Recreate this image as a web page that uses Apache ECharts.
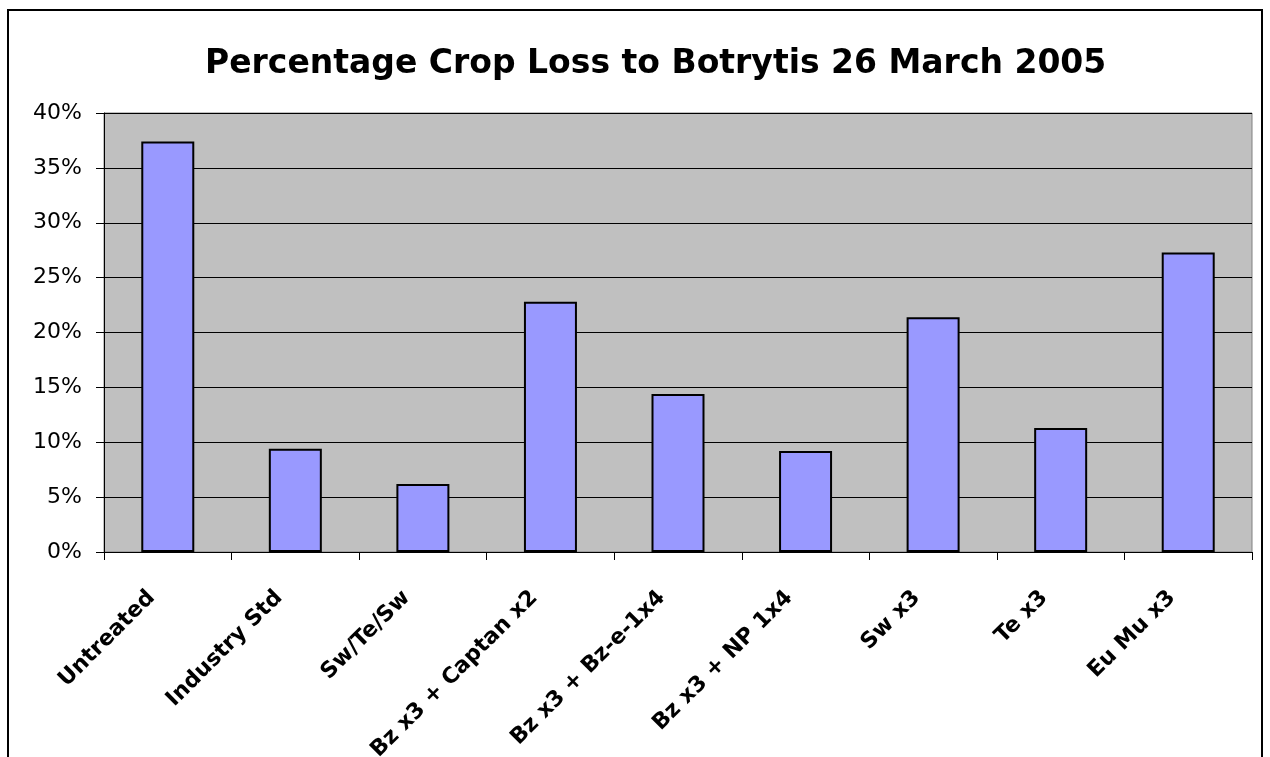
<!DOCTYPE html>
<html>
<head>
<meta charset="utf-8">
<script src="https://cdn.jsdelivr.net/npm/echarts@6/dist/echarts.min.js"></script>
<style>html,body{margin:0;padding:0;background:#fff;}#c{width:1270px;height:757px;}</style>
</head>
<body>
<div id="c"></div>
<script>
const categories = ["Untreated", "Industry Std", "Sw/Te/Sw", "Bz x3 + Captan x2", "Bz x3 + Bz-e-1x4", "Bz x3 + NP 1x4", "Sw x3", "Te x3", "Eu Mu x3"];
const lossValues = [0.374, 0.094, 0.062, 0.228, 0.144, 0.092, 0.214, 0.113, 0.273];
const titleText = "Percentage Crop Loss to Botrytis 26 March 2005";

const FONT = '"DejaVu Sans", "Liberation Sans", Arial, sans-serif';
const chart = echarts.init(document.getElementById('c'), null, {renderer: 'canvas'});
chart.setOption({
  backgroundColor: '#ffffff',
  animation: false,
  title: {
    text: titleText,
    left: 200,
    top: 43,
    textStyle: {fontFamily: FONT, fontSize: 33, fontWeight: 'bold', color: '#000'}
  },
  graphic: [{
    type: 'rect', shape: {x: 8, y: 10, width: 1254, height: 780},
    style: {fill: 'none', stroke: '#000', lineWidth: 2}, z: 100
  }],
  grid: {left: 104, right: 18, top: 113, bottom: 205, containLabel: false, outerBoundsMode: 'none',
    show: true, backgroundColor: '#c0c0c0', borderColor: '#808080', borderWidth: 1},
  xAxis: {
    type: 'category',
    data: categories,
    axisLine: {show: true, lineStyle: {color: '#000', width: 1}},
    axisTick: {show: true, length: 8, lineStyle: {color: '#000'}},
    axisLabel: {rotate: 45, margin: 26, interval: 0, padding: [0, 23, 32, 0],
      fontFamily: FONT, fontSize: 22, fontWeight: 'bold', color: '#000'}
  },
  yAxis: {
    type: 'value', min: 0, max: 0.4, interval: 0.05,
    axisLine: {show: true, lineStyle: {color: '#000'}},
    axisTick: {show: true, length: 8, inside: false, lineStyle: {color: '#000'}},
    splitLine: {show: true, lineStyle: {color: '#000', width: 1}},
    axisLabel: {margin: 22, fontFamily: FONT, fontSize: 22, color: '#000',
      formatter: v => Math.round(v * 100) + '%'}
  },
  series: [{
    type: 'bar',
    data: lossValues,
    barWidth: 53,
    itemStyle: {color: '#9999ff', borderColor: '#000', borderWidth: 2}
  }]
});
</script>
</body>
</html>
